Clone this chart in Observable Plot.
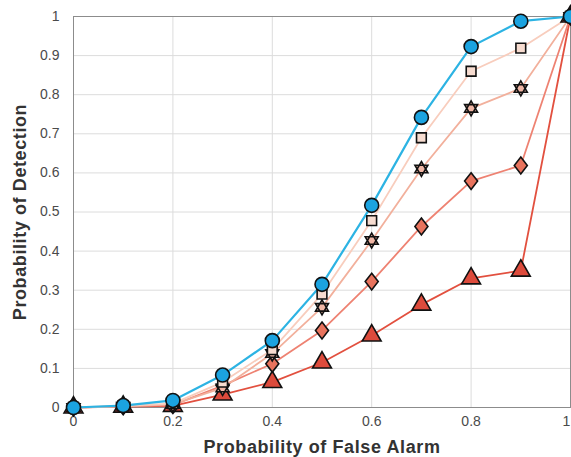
<!DOCTYPE html>
<html><head><meta charset="utf-8">
<script src="https://cdn.jsdelivr.net/npm/d3@7"></script>
<script src="https://cdn.jsdelivr.net/npm/@observablehq/plot@0.6"></script>
<style>
body{margin:0;background:#fff;}
svg{font-family:"Liberation Sans",Arial,sans-serif;}
g[aria-label="x-axis label"] text, g[aria-label="y-axis label"] text{font-weight:bold;font-size:18px;letter-spacing:0.6px;fill:#333;}
</style></head><body>
<div id="chart"></div>
<script>
const pfa = [0,0.1,0.2,0.3,0.4,0.5,0.6,0.7,0.8,0.9,1];
const triangleVals = [0,0.002,0.004,0.033,0.065,0.115,0.184,0.263,0.33,0.35,1];
const diamondVals  = [0,0.003,0.006,0.056,0.112,0.197,0.322,0.463,0.579,0.619,1];
const hexagramVals = [0,0.003,0.008,0.05,0.138,0.256,0.427,0.61,0.765,0.816,1];
const squareVals   = [0,0.004,0.01,0.065,0.148,0.29,0.478,0.69,0.86,0.919,1];
const circleVals   = [0,0.005,0.018,0.083,0.171,0.315,0.517,0.742,0.923,0.988,1];
const lineColors = ["#e2503f","#ee8272","#f2b09c","#f8cdbd","#2cb3e3"];
const fillColors = ["#dd4b3c","#e8735d","#f0b6a5","#f7dcd0","#1ba3e0"];
const xTicks = [0,0.2,0.4,0.6,0.8];
const xLastTick = [1];
const yTicks = [0,0.1,0.2,0.3,0.4,0.5,0.6,0.7,0.8,0.9,1];

const hexagram = {
  draw(ctx, size) {
    const r = Math.sqrt(size / Math.PI) * 1.15;
    for (const off of [-Math.PI/2, Math.PI/2]) {
      for (let i = 0; i < 3; i++) {
        const a = off + i * 2 * Math.PI / 3;
        const x = r * Math.cos(a), y = r * Math.sin(a);
        if (i === 0) ctx.moveTo(x, y); else ctx.lineTo(x, y);
      }
      ctx.closePath();
    }
  }
};
const wideDiamond = {
  draw(ctx, size) {
    const r = Math.sqrt(size / Math.PI);
    const h = r * 1.2, w = r * 0.93;
    ctx.moveTo(0, -h); ctx.lineTo(w, 0); ctx.lineTo(0, h); ctx.lineTo(-w, 0); ctx.closePath();
  }
};
const symbols = ["triangle",wideDiamond,hexagram,"square","circle"];
const sizes = [7,7,6.5,5.5,7];

const allVals = [triangleVals, diamondVals, hexagramVals, squareVals, circleVals];
const data = [];
allVals.forEach((vals, s) => vals.forEach((v, i) => data.push({s, x: pfa[i], y: v})));

const fmt = d => String(+d.toFixed(1));
const marks = [
  Plot.gridX([...xTicks, ...xLastTick], {stroke:"#dcdcdc", strokeOpacity:1}),
  Plot.gridY(yTicks, {stroke:"#dcdcdc", strokeOpacity:1}),
  Plot.frame({stroke:"#8c8c8c"}),
  Plot.axisX({ticks:xTicks, tickSize:0, tickPadding:9, tickFormat:fmt, fontSize:14, fill:"#4a4a4a",
    label:"Probability of False Alarm", labelAnchor:"center", labelArrow:"none", labelOffset:45}),
  Plot.axisX({ticks:xLastTick, tickSize:0, tickPadding:9, tickFormat:fmt, fontSize:14, fill:"#4a4a4a", dx:-4, label:null}),
  Plot.axisY({ticks:yTicks, tickSize:0, tickPadding:14, tickFormat:fmt, fontSize:14, fill:"#4a4a4a",
    label:"Probability of Detection", labelAnchor:"center", labelArrow:"none", labelOffset:60}),
];
for (let s = 0; s < 5; s++) {
  const d = data.filter(p => p.s === s);
  marks.push(Plot.line(d, {x:"x", y:"y", stroke: lineColors[s], strokeWidth: s===4 ? 2.2 : 1.8}));
}
for (let s = 0; s < 5; s++) {
  const d = data.filter(p => p.s === s);
  marks.push(Plot.dot(d, {x:"x", y:"y", symbol: () => symbols[s], r: sizes[s], fill: fillColors[s], stroke:"#111", strokeWidth:1.6}));
}

const chart = Plot.plot({
  width: 571, height: 457,
  marginLeft: 73, marginRight: 1, marginTop: 16, marginBottom: 50,
  x: {domain:[0,1]}, y: {domain:[0,1]},
  symbol: {type: "identity"},
  style: {fontSize:"14px", overflow:"visible"},
  marks
});
document.getElementById("chart").appendChild(chart);
</script>
</body></html>
